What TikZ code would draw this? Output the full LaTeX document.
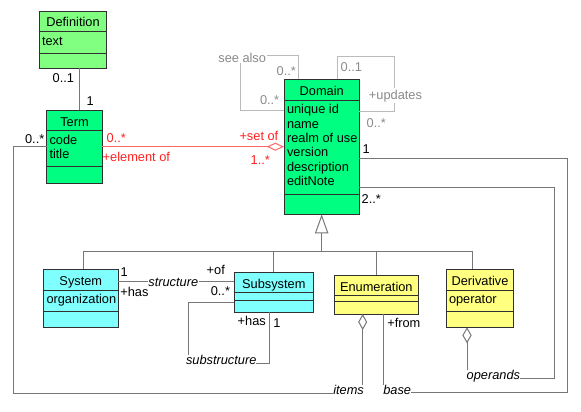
\documentclass[tikz,border=0pt]{standalone}
\usepackage{fontspec}
\setmainfont{Liberation Sans}
\usetikzlibrary{arrows.meta,fit}
\definecolor{defgreen}{HTML}{80FF80}
\definecolor{mintgreen}{HTML}{00FF80}
\definecolor{paleCyan}{HTML}{80FFFF}
\definecolor{paleYellow}{HTML}{FFFF80}
\definecolor{boxedge}{HTML}{303030}
\definecolor{connline}{HTML}{777777}
\definecolor{lightline}{HTML}{BBBBBB}
\definecolor{lighttext}{HTML}{8A8A8A}
\definecolor{redline}{HTML}{FF6666}
\definecolor{redtext}{HTML}{FF2020}
\tikzset{
  clsbox/.style={draw=boxedge, line width=0.75pt, inner sep=0pt, outer sep=0pt},
  sepline/.style={draw=boxedge, line width=0.75pt},
  conn/.style={draw=connline, line width=0.75pt},
  lightconn/.style={draw=lightline, line width=0.75pt},
  redconn/.style={draw=redline, line width=0.75pt},
  txt/.style={inner sep=0pt, outer sep=0pt, font=\fontsize{9.6}{10.8}\selectfont},
  itlbl/.style={inner sep=0pt, outer sep=0pt, font=\fontsize{9.6}{10.8}\selectfont\itshape},
  mask/.style={fill=white, inner xsep=0.5pt, inner ysep=1pt},
}
\newcommand\umlcls[8]{%
  \path (#3,#4) coordinate (#1-a) (#5,#6) coordinate (#1-b);
  \node[clsbox, fill=#2, fit=(#1-a)(#1-b)] (#1) {};
  \draw[sepline] (#3,#7) -- (#5,#7) (#3,#8) -- (#5,#8);
}
\begin{document}
\begin{tikzpicture}[x=0.75pt,y=-0.75pt]
\useasboundingbox (0,0) rectangle (581,411);

% ---------- classes ----------
\umlcls{definition}{defgreen}{39.3}{11.7}{106.7}{68}{31.7}{53.3}
\umlcls{term}{mintgreen}{46.7}{110}{102.3}{183.3}{130.7}{166.7}
\umlcls{domain}{mintgreen}{284}{79.3}{359.3}{214.3}{100}{194.3}
\umlcls{system}{paleCyan}{43.3}{269.3}{118.3}{327.3}{290.7}{311.3}
\umlcls{subsystem}{paleCyan}{234.3}{272.3}{313.3}{312}{292.3}{300.3}
\umlcls{enumeration}{paleYellow}{334.3}{275}{418.3}{314}{295}{301.7}
\umlcls{derivative}{paleYellow}{446.7}{269.3}{513.3}{327.3}{290.3}{311.3}

% titles and attributes
\node[txt, anchor=base] (definition-t) at (73,26.7) {Definition};
\node[txt, anchor=base west] (definition-a1) at (42,45) {text};
\node[txt, anchor=base] (term-t) at (74.5,126) {Term};
\node[txt, anchor=base west] (term-a1) at (49.5,144) {code};
\node[txt, anchor=base west] (term-a2) at (49.5,158.3) {title};
\node[txt, anchor=base] (domain-t) at (321.7,95) {Domain};
\node[txt, anchor=base west] (domain-a1) at (287,113.7) {unique id};
\node[txt, anchor=base west] (domain-a2) at (287,128.1) {name};
\node[txt, anchor=base west] (domain-a3) at (287,142.5) {realm of use};
\node[txt, anchor=base west] (domain-a4) at (287,156.9) {version};
\node[txt, anchor=base west] (domain-a5) at (287,171.3) {description};
\node[txt, anchor=base west] (domain-a6) at (287,185.7) {editNote};
\node[txt, anchor=base] (system-t) at (80.8,285) {System};
\node[txt, anchor=base west] (system-a1) at (46.5,303.5) {organization};
\node[txt, anchor=base] (subsystem-t) at (273.8,288) {Subsystem};
\node[txt, anchor=base] (enumeration-t) at (376.3,291) {Enumeration};
\node[txt, anchor=base] (derivative-t) at (480,285) {Derivative};
\node[txt, anchor=base west] (derivative-a1) at (449,303) {operator};

% italic association names (junction labels)
\node[itlbl, anchor=base west] (items) at (333.3,394.3) {items};
\node[itlbl, anchor=base west] (base) at (383.3,394.3) {base};
\node[itlbl, anchor=base west] (operands) at (466.7,379.5) {operands};
\node[itlbl, anchor=base west] (substructure) at (186,364) {substructure};

% ---------- helper coordinates ----------
\coordinate (dt) at (79.3,0);
\coordinate (redy) at (0,146.7);
\coordinate (c1) at (13.3,393.3);
\coordinate (xit) at (362.7,0);
\coordinate (y1d) at (0,158.3);
\coordinate (c2) at (567.7,392.3);
\coordinate (xb) at (383.3,0);
\coordinate (y2d) at (0,187.3);
\coordinate (c3) at (554,378.3);
\coordinate (xo) at (467,0);
\coordinate (ys) at (0,281.7);
\coordinate (ysub) at (0,302.7);
\coordinate (c4) at (188.3,302.7);
\coordinate (c5) at (269.3,363.3);
\coordinate (sa1) at (240.7,55);
\coordinate (sa2) at (298.3,55);
\coordinate (ysa) at (0,110);
\coordinate (u1) at (337.3,56);
\coordinate (u2) at (394.3,111.7);
\coordinate (gsys) at (83.3,251);
\coordinate (gsub) at (273.8,251);
\coordinate (genum) at (376.7,251);
\coordinate (gder) at (472.3,251);

% ---------- connectors ----------
% Definition - Term
\draw[conn] (dt |- definition.south) -- (dt |- term.north);
% Term - Domain (aggregation)
\draw[redconn, -{Diamond[open,length=13pt,width=6pt]}] (term.east |- redy) -- (domain.west |- redy);
% Term - items - Enumeration
\draw[conn] (term.west |- redy) -| (c1) -- (c1 -| items.west);
\draw[conn, {Diamond[open,length=12pt,width=6.75pt]}-] (xit |- enumeration.south) -- (xit |- items.north);
% Domain - base - Enumeration
\draw[conn] (domain.east |- y1d) -| (c2) -- (c2 -| base.east);
\draw[conn] (xb |- enumeration.south) -- (xb |- base.north);
% Domain - operands - Derivative
\draw[conn] (domain.east |- y2d) -| (c3) -- (c3 -| operands.east);
\draw[conn, {Diamond[open,length=12pt,width=7pt]}-] (xo |- derivative.south) -- (xo |- operands.north);
% System - Subsystem (structure)
\draw[conn] (system.east |- ys) -- (subsystem.west |- ys);
% Subsystem self (substructure)
\draw[conn] (subsystem.west |- ysub) -- (c4) -- (c4 |- substructure.north);
\draw[conn] (c5 -| substructure.east) -- (c5) -- (c5 |- subsystem.south);
% Domain self (see also)
\draw[lightconn] (domain.west |- ysa) -| (sa1) -- (sa2) -- (sa2 |- domain.north);
% Domain self (updates)
\draw[lightconn] (u1 |- domain.north) -- (u1) -| (u2) -- (u2 -| domain.east);
% Generalization
\draw[conn, -{Triangle[open,length=14.25pt,width=10pt]}] (gsys -| domain.south) -- (domain.south);
\draw[conn] (gsys |- system.north) -- (gsys) -- (gder) -- (gder |- derivative.north);
\draw[conn] (gsub) -- (gsub |- subsystem.north);
\draw[conn] (genum) -- (genum |- enumeration.north);

% ---------- labels ----------
\node[txt, anchor=base west] (l-def1) at (52.7,82.8) {0..1};
\node[txt, anchor=base west] (l-term1) at (86.7,105) {1};
\node[txt, anchor=base east] (l-items1) at (44.3,143.8) {0..*};
\node[txt, text=redtext, anchor=base west] (l-red1) at (106.7,142) {0..*};
\node[txt, text=redtext, anchor=base west] (l-red2) at (102.7,161) {+element of};
\node[txt, text=redtext, anchor=base east] (l-red3) at (278.3,140) {+set of};
\node[txt, text=redtext, anchor=base west] (l-red4) at (250.7,164) {1..*};
\node[txt, mask, text=lighttext, anchor=base east] (seealso) at (266.7,62) {see also};
\node[txt, text=lighttext, anchor=base west] (l-sa1) at (276.7,75) {0..*};
\node[txt, text=lighttext, anchor=base west] (l-sa2) at (260,104) {0..*};
\node[txt, text=lighttext, anchor=base west] (l-up1) at (340.7,71.7) {0..1};
\node[txt, mask, text=lighttext, anchor=base west] (updates) at (368.3,99) {+updates};
\node[txt, text=lighttext, anchor=base west] (l-up2) at (366.7,127) {0..*};
\node[txt, anchor=base west] (l-dom1) at (362.7,153.5) {1};
\node[txt, anchor=base west] (l-dom2) at (361.7,203.3) {2..*};
\node[itlbl, mask, anchor=base] (structure) at (173.3,286.5) {structure};
\node[txt, anchor=base west] (l-sys1) at (120.7,276.7) {1};
\node[txt, anchor=base west] (l-sys2) at (120.3,296.5) {+has};
\node[txt, anchor=base west] (l-sub1) at (206.7,274.3) {+of};
\node[txt, anchor=base east] (l-sub2) at (230,295.7) {0..*};
\node[txt, anchor=base west] (l-sub3) at (237.7,325) {+has};
\node[txt, anchor=base west] (l-sub4) at (273.3,327.3) {1};
\node[txt, anchor=base west] (l-from) at (387.3,327.7) {+from};
\end{tikzpicture}
\end{document}
